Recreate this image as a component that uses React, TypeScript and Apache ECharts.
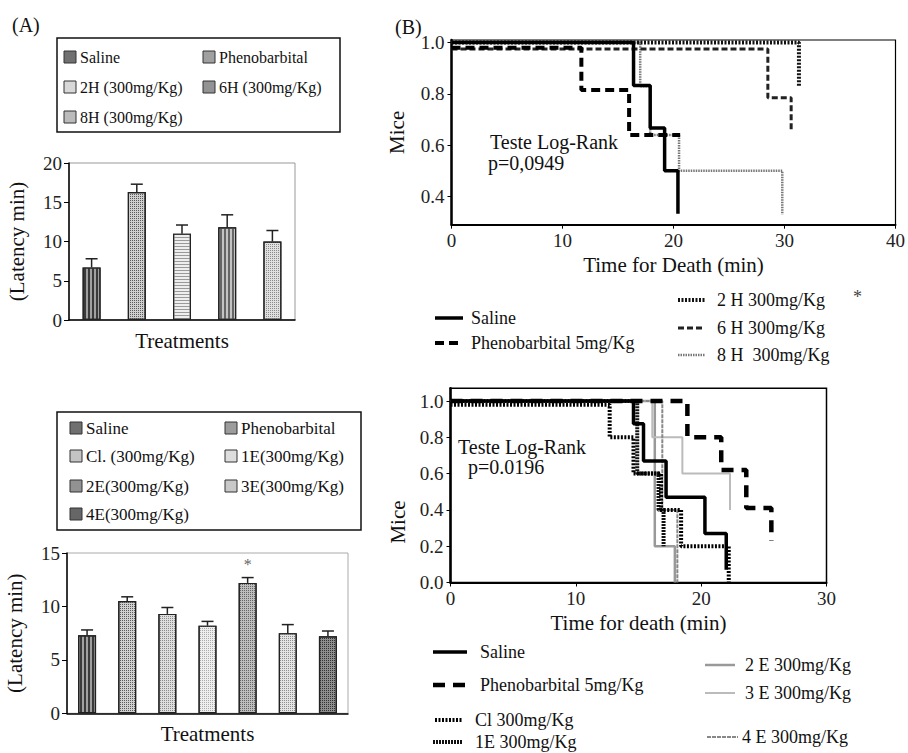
import React, { useEffect, useRef } from 'react';
import * as echarts from 'echarts';

// ---------- DATA ----------
const TOP_CATEGORIES = ['Saline', 'Phenobarbital', '2H (300mg/Kg)', '6H (300mg/Kg)', '8H (300mg/Kg)'];
const TOP_LATENCY = [6.7, 16.3, 11.0, 11.8, 10.0];
const TOP_SEM = [1.1, 1.0, 1.1, 1.6, 1.4];

const BOTTOM_CATEGORIES = ['Saline', 'Phenobarbital', 'Cl. (300mg/Kg)', '1E(300mg/Kg)', '2E(300mg/Kg)', '3E(300mg/Kg)', '4E(300mg/Kg)'];
const BOTTOM_LATENCY = [7.3, 10.5, 9.3, 8.2, 12.2, 7.5, 7.2];
const BOTTOM_SEM = [0.5, 0.4, 0.6, 0.4, 0.5, 0.8, 0.5];
const BOTTOM_SIGNIFICANT = [false, false, false, false, true, false, false];

const KM_H_NAMES = ['Saline', 'Phenobarbital 5mg/Kg', '2 H 300mg/Kg', '6 H 300mg/Kg', '8 H  300mg/Kg'];
const KM_H_SALINE = [[0, 1], [16.4, 0.833], [17.9, 0.667], [19.2, 0.5], [20.4, 0.333]];
const KM_H_PHENO = [[0, 0.98], [11.7, 0.815], [16.0, 0.64], [20.6, 0.64]];
const KM_H_2H = [[0, 1], [31.3, 0.83]];
const KM_H_6H = [[0, 0.975], [28.5, 0.785], [30.6, 0.66]];
const KM_H_8H = [[0, 1], [17.0, 0.83], [17.9, 0.64], [20.5, 0.5], [29.8, 0.33]];
const KM_H_TICKS_X = [0, 10, 20, 30, 40];
const KM_H_TICKS_Y = [0.4, 0.6, 0.8, 1.0];

const KM_E_NAMES = ['Saline', 'Phenobarbital 5mg/Kg', 'Cl 300mg/Kg', '1E 300mg/Kg', '2 E 300mg/Kg', '3 E 300mg/Kg', '4 E 300mg/Kg'];
const KM_E_SALINE = [[0, 1], [14.6, 0.875], [15.4, 0.67], [17.2, 0.47], [20.3, 0.27], [22.0, 0.07]];
const KM_E_PHENO = [[0, 1], [18.9, 0.8], [21.6, 0.62], [23.6, 0.41], [25.6, 0.23]];
const KM_E_CL = [[0, 0.98], [12.7, 0.8], [14.6, 0.6], [16.8, 0.4], [18.4, 0.2], [22.2, 0.0]];
const KM_E_1E = [[0, 1], [14.9, 0.6], [16.6, 0.4], [17.0, 0.2]];
const KM_E_2E = [[0, 1], [16.3, 0.2], [17.9, 0.0]];
const KM_E_3E = [[0, 1], [16.1, 0.8], [18.5, 0.6], [22.3, 0.4]];
const KM_E_4E = [[0, 1], [16.9, 0.4], [18.1, 0.0]];
const KM_E_TICKS_Y = [0, 0.2, 0.4, 0.6, 0.8, 1.0];

// ---------- STYLES ----------
const SERIF = 'Liberation Serif, Times New Roman, DejaVu Serif, serif';

const vStripes = (c: string) => ({ symbol: 'rect', symbolSize: 1, dashArrayX: [1.2, 1.6], dashArrayY: [4, 0], color: c });
const hStripes = (c: string) => ({ symbol: 'rect', symbolSize: 1, dashArrayX: [4, 0], dashArrayY: [1, 1.6], color: c });
const dots = (c: string) => ({ symbol: 'rect', symbolSize: 1, dashArrayX: [1, 1], dashArrayY: [1, 1], color: c });

const TOP_BAR_STYLE = [
  { color: '#a0a0a0', decal: vStripes('#3a3a3a'), icon: '#707070' },
  { color: '#cfcfcf', decal: dots('#5a5a5a'), icon: '#a0a0a0' },
  { color: '#eeeeee', decal: hStripes('#9a9a9a'), icon: '#d8d8d8' },
  { color: '#c4c4c4', decal: vStripes('#666'), icon: '#939393' },
  { color: '#e0e0e0', decal: dots('#8a8a8a'), icon: '#bbbbbb' },
];
const BOTTOM_BAR_STYLE = [
  { color: '#a0a0a0', decal: vStripes('#3a3a3a'), icon: '#707070' },
  { color: '#d0d0d0', decal: dots('#5a5a5a'), icon: '#9c9c9c' },
  { color: '#dedede', decal: dots('#8a8a8a'), icon: '#c4c4c4' },
  { color: '#eeeeee', decal: dots('#aaa'), icon: '#dddddd' },
  { color: '#bdbdbd', decal: dots('#666'), icon: '#929292' },
  { color: '#e4e4e4', decal: dots('#8e8e8e'), icon: '#c8c8c8' },
  { color: '#8e8e8e', decal: dots('#333'), icon: '#666666' },
];

const KM_H_STYLE = [
  { color: '#000', width: 3.5, type: 'solid' },
  { color: '#000', width: 4, type: [9, 5] },
  { color: '#111', width: 4, type: [2, 1.5] },
  { color: '#222', width: 3, type: [6, 3] },
  { color: '#777', width: 2.5, type: [1.5, 1] },
];
const KM_E_STYLE = [
  { color: '#000', width: 3.5, type: 'solid' },
  { color: '#000', width: 4.5, type: [12, 8] },
  { color: '#000', width: 4, type: [2, 1.5] },
  { color: '#111', width: 4, type: [2, 1] },
  { color: '#999', width: 2.5, type: 'solid' },
  { color: '#bbb', width: 2, type: 'solid' },
  { color: '#888', width: 2, type: [4, 1] },
];

function errorRender(_params: any, api: any) {
  const x = api.value(0);
  const m = api.value(1);
  const e = api.value(2);
  const p0 = api.coord([x, m]);
  const p1 = api.coord([x, m + e]);
  const s = { stroke: '#222', lineWidth: 1.5 };
  return {
    type: 'group',
    children: [
      { type: 'line', shape: { x1: p0[0], y1: p0[1], x2: p1[0], y2: p1[1] }, style: s },
      { type: 'line', shape: { x1: p1[0] - 6, y1: p1[1], x2: p1[0] + 6, y2: p1[1] }, style: s },
    ],
  };
}

function txt(text: string, x: number, y: number, size: number, extra: any = {}) {
  return {
    type: 'text',
    x,
    y,
    rotation: extra.rotation || 0,
    style: {
      text,
      fontFamily: SERIF,
      fontSize: size,
      fill: extra.fill || '#111',
      align: extra.align || 'left',
      verticalAlign: 'middle',
    },
  };
}

function barLegend(names: string[], styles: any[], box: any, rows: number[], cols: number[], size: number) {
  const els: any[] = [
    { type: 'rect', shape: box, style: { fill: 'none', stroke: '#111', lineWidth: 1.5 } },
  ];
  names.forEach((n, i) => {
    const x = cols[i % 2];
    const y = rows[Math.floor(i / 2)];
    els.push({ type: 'rect', shape: { x, y: y - 6, width: 12, height: 12 }, style: { fill: styles[i].icon, stroke: '#333', lineWidth: 1 } });
    els.push(txt(n, x + 16, y, size));
  });
  return els;
}

function lineLegendItem(name: string, st: any, x1: number, x2: number, y: number, tx: number, size: number) {
  return [
    {
      type: 'line',
      shape: { x1, y1: y, x2, y2: y },
      style: { stroke: st.color, lineWidth: st.width, lineDash: Array.isArray(st.type) ? st.type : null },
    },
    txt(name, tx, y, size),
  ];
}

function buildOption() {
  const axisTxt = { fontFamily: SERIF, fontSize: 19, color: '#222' };
  const nameTxt = { fontFamily: SERIF, fontSize: 21, color: '#111' };

  const graphic: any[] = [
    txt('(A)', 12, 25, 20),
    txt('(B)', 395, 27, 20),
    ...barLegend(TOP_CATEGORIES, TOP_BAR_STYLE, { x: 57, y: 38, width: 283, height: 94 }, [57, 87, 117], [64, 203], 16),
    ...barLegend(BOTTOM_CATEGORIES, BOTTOM_BAR_STYLE, { x: 57, y: 412, width: 304, height: 118 }, [428, 456, 486, 514], [70, 225], 17),
    txt('Teste Log-Rank', 490, 142, 20),
    txt('p=0,0949', 488, 163, 20),
    txt('Teste Log-Rank', 458, 447, 20),
    txt('p=0.0196', 468, 467, 20),
    txt('Mice', 398, 522, 21, { rotation: Math.PI / 2, align: 'center' }),
    ...lineLegendItem(KM_H_NAMES[0], KM_H_STYLE[0], 435, 463, 318, 471, 18),
    ...lineLegendItem(KM_H_NAMES[1], KM_H_STYLE[1], 435, 463, 343, 471, 18),
    ...lineLegendItem(KM_H_NAMES[2], KM_H_STYLE[2], 678, 705, 300, 717, 18),
    ...lineLegendItem(KM_H_NAMES[3], KM_H_STYLE[3], 678, 705, 328, 717, 18),
    ...lineLegendItem(KM_H_NAMES[4], KM_H_STYLE[4], 678, 705, 355, 717, 18),
    txt('*', 853, 297, 18, { fill: '#444' }),
    ...lineLegendItem(KM_E_NAMES[0], KM_E_STYLE[0], 433, 467, 652, 480, 18),
    ...lineLegendItem(KM_E_NAMES[1], KM_E_STYLE[1], 433, 467, 685, 480, 18),
    ...lineLegendItem(KM_E_NAMES[2], KM_E_STYLE[2], 435, 463, 720, 475, 18),
    ...lineLegendItem(KM_E_NAMES[3], KM_E_STYLE[3], 433, 463, 742, 475, 18),
    ...lineLegendItem(KM_E_NAMES[4], KM_E_STYLE[4], 705, 735, 665, 745, 18),
    ...lineLegendItem(KM_E_NAMES[5], KM_E_STYLE[5], 705, 735, 693, 745, 18),
    ...lineLegendItem(KM_E_NAMES[6], KM_E_STYLE[6], 707, 738, 737, 742, 18),
  ];

  const kmSeries = (data: number[][], st: any, idx: number, name: string) => ({
    type: 'line',
    name,
    step: 'end',
    xAxisIndex: idx,
    yAxisIndex: idx,
    symbol: 'none',
    showSymbol: false,
    data,
    lineStyle: { color: st.color, width: st.width, type: st.type },
    z: 3,
  });

  return {
    animation: false,
    backgroundColor: '#fff',
    textStyle: { fontFamily: SERIF },
    grid: [
      { left: 69, top: 163, width: 226, height: 157, show: true, borderColor: '#999', borderWidth: 1 },
      { left: 67, top: 553, width: 281, height: 160.3, show: true, borderColor: '#aaa', borderWidth: 1 },
      { left: 451.5, top: 40, width: 448.5, height: 184.7, show: true, borderColor: '#000', borderWidth: 1.2 },
      { left: 450.5, top: 388.3, width: 376, height: 194.2, show: true, borderColor: '#000', borderWidth: 1.5 },
    ],
    xAxis: [
      {
        type: 'category', gridIndex: 0, data: TOP_CATEGORIES,
        axisLabel: { show: false }, axisTick: { show: false },
        axisLine: { lineStyle: { color: '#000', width: 1.5 } },
        name: 'Treatments', nameLocation: 'middle', nameGap: 10, nameTextStyle: nameTxt,
      },
      {
        type: 'category', gridIndex: 1, data: BOTTOM_CATEGORIES,
        axisLabel: { show: false }, axisTick: { show: false },
        axisLine: { lineStyle: { color: '#000', width: 1.5 } },
        name: 'Treatments', nameLocation: 'middle', nameGap: 10, nameTextStyle: nameTxt,
      },
      {
        type: 'value', gridIndex: 2, min: 0, max: 40, interval: 10,
        axisLine: { lineStyle: { color: '#000', width: 2 } },
        axisTick: { show: true, length: 4, lineStyle: { color: '#000' } },
        axisLabel: { ...axisTxt, margin: 6, customValues: KM_H_TICKS_X },
        splitLine: { show: false },
        name: 'Time for Death (min)', nameLocation: 'middle', nameGap: 30, nameTextStyle: nameTxt,
      },
      {
        type: 'value', gridIndex: 3, min: 0, max: 30, interval: 10,
        axisLine: { lineStyle: { color: '#000', width: 2 } },
        axisTick: { show: true, length: 4, lineStyle: { color: '#000' } },
        axisLabel: { ...axisTxt, margin: 6 },
        splitLine: { show: false },
        name: 'Time for death (min)', nameLocation: 'middle', nameGap: 30, nameTextStyle: nameTxt,
      },
    ],
    yAxis: [
      {
        type: 'value', gridIndex: 0, min: 0, max: 20, interval: 5,
        axisLine: { show: true, lineStyle: { color: '#000', width: 1.5 } },
        axisTick: { show: true, length: 5, lineStyle: { color: '#000' } },
        axisLabel: { ...axisTxt, margin: 7 },
        splitLine: { show: false },
        name: '(Latency min)', nameLocation: 'middle', nameGap: 42, nameRotate: 90, nameTextStyle: nameTxt,
      },
      {
        type: 'value', gridIndex: 1, min: 0, max: 15, interval: 5,
        axisLine: { show: true, lineStyle: { color: '#000', width: 1.5 } },
        axisTick: { show: true, length: 5, lineStyle: { color: '#000' } },
        axisLabel: { ...axisTxt, margin: 7 },
        splitLine: { show: false },
        name: '(Latency min)', nameLocation: 'middle', nameGap: 42, nameRotate: 90, nameTextStyle: nameTxt,
      },
      {
        type: 'value', gridIndex: 2, min: 0.29, max: 1.01,
        axisLine: { show: true, lineStyle: { color: '#000', width: 2.5 } },
        axisTick: { show: true, length: 4, customValues: KM_H_TICKS_Y, lineStyle: { color: '#000' } },
        axisLabel: { ...axisTxt, margin: 7, customValues: KM_H_TICKS_Y, formatter: (v: number) => v.toFixed(1) },
        splitLine: { show: false },
        name: 'Mice', nameLocation: 'middle', nameGap: 44, nameRotate: 90, nameTextStyle: nameTxt,
      },
      {
        type: 'value', gridIndex: 3, min: 0, max: 1.07,
        axisLine: { show: true, lineStyle: { color: '#000', width: 2.5 } },
        axisTick: { show: true, length: 4, customValues: KM_E_TICKS_Y, lineStyle: { color: '#000' } },
        axisLabel: { ...axisTxt, margin: 7, customValues: KM_E_TICKS_Y, formatter: (v: number) => v.toFixed(1) },
        splitLine: { show: false },
      },
    ],
    series: [
      {
        type: 'bar', xAxisIndex: 0, yAxisIndex: 0, barWidth: 18,
        data: TOP_LATENCY.map((v, i) => ({
          value: v,
          itemStyle: { color: TOP_BAR_STYLE[i].color, decal: TOP_BAR_STYLE[i].decal, borderColor: '#222', borderWidth: 1.2 },
        })),
      },
      {
        type: 'custom', xAxisIndex: 0, yAxisIndex: 0, renderItem: errorRender, z: 5,
        data: TOP_LATENCY.map((v, i) => [i, v, TOP_SEM[i]]),
      },
      {
        type: 'bar', xAxisIndex: 1, yAxisIndex: 1, barWidth: 18,
        data: BOTTOM_LATENCY.map((v, i) => ({
          value: v,
          itemStyle: { color: BOTTOM_BAR_STYLE[i].color, decal: BOTTOM_BAR_STYLE[i].decal, borderColor: '#222', borderWidth: 1.2 },
          label: BOTTOM_SIGNIFICANT[i]
            ? { show: true, position: 'top', formatter: '*', distance: 10, color: '#666666', textBorderWidth: 0, fontSize: 16, fontFamily: SERIF }
            : { show: false },
        })),
      },
      {
        type: 'custom', xAxisIndex: 1, yAxisIndex: 1, renderItem: errorRender, z: 5,
        data: BOTTOM_LATENCY.map((v, i) => [i, v, BOTTOM_SEM[i]]),
      },
      kmSeries(KM_H_8H, KM_H_STYLE[4], 2, KM_H_NAMES[4]),
      kmSeries(KM_H_6H, KM_H_STYLE[3], 2, KM_H_NAMES[3]),
      kmSeries(KM_H_2H, KM_H_STYLE[2], 2, KM_H_NAMES[2]),
      kmSeries(KM_H_PHENO, KM_H_STYLE[1], 2, KM_H_NAMES[1]),
      kmSeries(KM_H_SALINE, KM_H_STYLE[0], 2, KM_H_NAMES[0]),
      kmSeries(KM_E_2E, KM_E_STYLE[4], 3, KM_E_NAMES[4]),
      kmSeries(KM_E_3E, KM_E_STYLE[5], 3, KM_E_NAMES[5]),
      kmSeries(KM_E_4E, KM_E_STYLE[6], 3, KM_E_NAMES[6]),
      kmSeries(KM_E_1E, KM_E_STYLE[3], 3, KM_E_NAMES[3]),
      kmSeries(KM_E_CL, KM_E_STYLE[2], 3, KM_E_NAMES[2]),
      kmSeries(KM_E_PHENO, KM_E_STYLE[1], 3, KM_E_NAMES[1]),
      kmSeries(KM_E_SALINE, KM_E_STYLE[0], 3, KM_E_NAMES[0]),
    ],
    graphic,
  };
}

export default function App() {
  const ref = useRef<HTMLDivElement>(null);
  useEffect(() => {
    if (!ref.current) return;
    const chart = echarts.init(ref.current, undefined, { renderer: 'svg' });
    chart.setOption(buildOption() as any);
    return () => chart.dispose();
  }, []);
  return <div ref={ref} style={{ position: 'fixed', left: 0, top: 0, width: 908, height: 753 }} />;
}
